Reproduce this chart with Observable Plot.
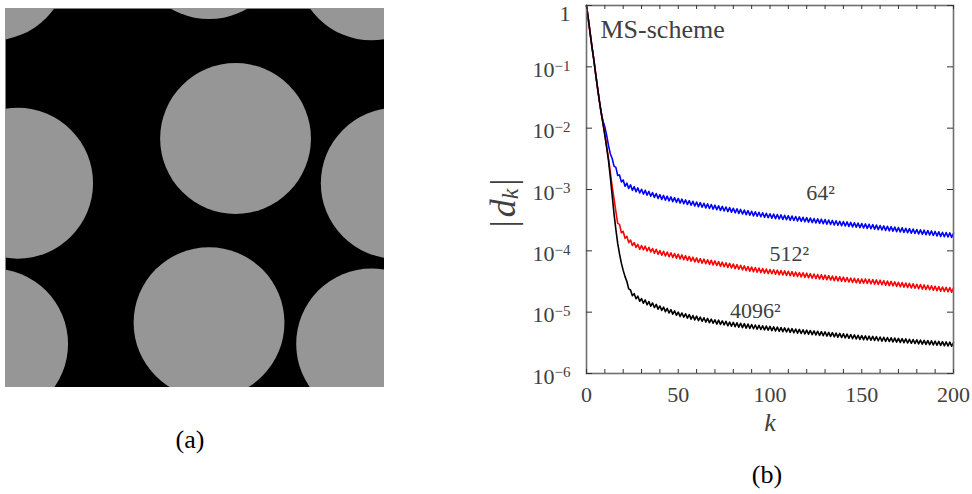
<!DOCTYPE html>
<html><head><meta charset="utf-8">
<script src="https://cdn.jsdelivr.net/npm/d3@7"></script>
<script src="https://cdn.jsdelivr.net/npm/@observablehq/plot@0.6"></script>
<style>
body{margin:0;background:#fff;width:972px;height:494px;position:relative;overflow:hidden;font-family:"Liberation Serif","Times New Roman","DejaVu Serif",serif;}
#pa{position:absolute;left:5px;top:8px;width:379px;height:379px;}
#pb{position:absolute;left:480px;top:0;}
#pb svg, #pb svg text{font-family:"Liberation Serif","Times New Roman","DejaVu Serif",serif !important;}
.cap{position:absolute;font-size:26px;color:#000;transform:translate(-50%,-50%);white-space:nowrap;line-height:1;}
</style></head><body>
<div id="pa"></div><div id="pb"></div>
<div class="cap" style="left:190px;top:440px">(a)</div>
<div class="cap" style="left:767px;top:475px">(b)</div>
<script>
// ---- panel (a): circle centres and radii, in units of the square's side ----
const circleX = [0.607, 0.032, 1.031, 0.537, 0.537, 0.966, -0.034, 0.966, -0.034];
const circleY = [0.343, 0.461, 0.461, 0.829, -0.171, 0.885, 0.885, -0.115, -0.115];
const circleR = [0.199, 0.199, 0.199, 0.199, 0.199, 0.199, 0.199, 0.199, 0.199];

// ---- panel (b): |d_k| versus k ----
const kValues = Array.from({length: 201}, (_, i) => i);
const d64 = [
1,0.60,0.35,0.21,0.13,0.076,0.046,0.028,0.018,0.013,0.0105,
7.6e-3,5.2e-3,3.8e-3,3.2e-3,2.4e-3,2.3e-3,1.7e-3,1.72e-3,1.33e-3,1.43e-3,
1.13e-3,1.27e-3,1.04e-3,1.19e-3,9.7e-4,1.11e-3,9.2e-4,1.06e-3,8.8e-4,1.01e-3,
8.43e-4,9.7e-4,8.1e-4,9.3e-4,7.8e-4,8.9e-4,7.45e-4,8.6e-4,7.14e-4,8.22e-4,
6.9e-4,8.0e-4,6.71e-4,7.78e-4,6.53e-4,7.57e-4,6.35e-4,7.36e-4,6.18e-4,7.16e-4,
6.01e-4,6.97e-4,5.85e-4,6.78e-4,5.69e-4,6.59e-4,5.53e-4,6.41e-4,5.38e-4,6.24e-4,
5.25e-4,6.1e-4,5.13e-4,5.96e-4,5.01e-4,5.82e-4,4.9e-4,5.69e-4,4.79e-4,5.56e-4,
4.68e-4,5.43e-4,4.57e-4,5.31e-4,4.47e-4,5.19e-4,4.37e-4,5.07e-4,4.27e-4,4.95e-4,
4.17e-4,4.84e-4,4.07e-4,4.73e-4,3.98e-4,4.62e-4,3.89e-4,4.52e-4,3.8e-4,4.42e-4,
3.72e-4,4.34e-4,3.66e-4,4.26e-4,3.59e-4,4.18e-4,3.52e-4,4.1e-4,3.46e-4,4.03e-4,
3.41e-4,3.97e-4,3.35e-4,3.91e-4,3.30e-4,3.85e-4,3.25e-4,3.80e-4,3.21e-4,3.74e-4,
3.16e-4,3.69e-4,3.12e-4,3.63e-4,3.07e-4,3.58e-4,3.03e-4,3.53e-4,2.98e-4,3.48e-4,
2.94e-4,3.42e-4,2.89e-4,3.37e-4,2.85e-4,3.32e-4,2.81e-4,3.28e-4,2.77e-4,3.23e-4,
2.73e-4,3.18e-4,2.69e-4,3.13e-4,2.64e-4,3.09e-4,2.61e-4,3.04e-4,2.57e-4,3.00e-4,
2.54e-4,2.96e-4,2.50e-4,2.91e-4,2.46e-4,2.87e-4,2.43e-4,2.83e-4,2.39e-4,2.79e-4,
2.36e-4,2.75e-4,2.32e-4,2.71e-4,2.29e-4,2.67e-4,2.26e-4,2.63e-4,2.22e-4,2.59e-4,
2.19e-4,2.55e-4,2.15e-4,2.51e-4,2.12e-4,2.48e-4,2.10e-4,2.44e-4,2.06e-4,2.40e-4,
2.03e-4,2.37e-4,2.00e-4,2.33e-4,1.97e-4,2.30e-4,1.94e-4,2.27e-4,1.92e-4,2.23e-4,
1.88e-4,2.20e-4,1.86e-4,2.17e-4,1.83e-4,2.14e-4,1.81e-4,2.11e-4,1.78e-4,2.07e-4,
1.75e-4,2.04e-4,1.72e-4,2.01e-4,1.70e-4,1.99e-4,1.68e-4,1.96e-4,1.66e-4,1.93e-4
];
const d512 = [
1,0.60,0.35,0.21,0.13,0.076,0.046,0.028,0.018,0.012,7.9e-3,
5.0e-3,3.2e-3,1.9e-3,1.12e-3,7.1e-4,4.4e-4,2.8e-4,2.7e-4,1.97e-4,2.07e-4,
1.6e-4,1.72e-4,1.36e-4,1.5e-4,1.22e-4,1.36e-4,1.14e-4,1.27e-4,1.06e-4,1.22e-4,
1.04e-4,1.19e-4,9.96e-5,1.14e-4,9.6e-5,1.09e-4,9.16e-5,1.06e-4,8.78e-5,1.01e-4,
8.49e-5,9.84e-5,8.25e-5,9.57e-5,8.03e-5,9.31e-5,7.81e-5,9.05e-5,7.6e-5,8.81e-5,
7.39e-5,8.57e-5,7.2e-5,8.34e-5,7.0e-5,8.11e-5,6.8e-5,7.88e-5,6.62e-5,7.68e-5,
6.46e-5,7.5e-5,6.31e-5,7.33e-5,6.16e-5,7.16e-5,6.03e-5,7.0e-5,5.89e-5,6.84e-5,
5.76e-5,6.68e-5,5.62e-5,6.53e-5,5.5e-5,6.38e-5,5.38e-5,6.24e-5,5.25e-5,6.09e-5,
5.13e-5,5.95e-5,5.01e-5,5.82e-5,4.9e-5,5.68e-5,4.78e-5,5.56e-5,4.67e-5,5.44e-5,
4.58e-5,5.34e-5,4.5e-5,5.24e-5,4.42e-5,5.14e-5,4.33e-5,5.04e-5,4.26e-5,4.96e-5,
4.23e-5,4.92e-5,4.15e-5,4.85e-5,4.09e-5,4.77e-5,4.03e-5,4.71e-5,3.98e-5,4.64e-5,
3.92e-5,4.58e-5,3.87e-5,4.50e-5,3.81e-5,4.44e-5,3.76e-5,4.38e-5,3.70e-5,4.32e-5,
3.65e-5,4.24e-5,3.58e-5,4.18e-5,3.53e-5,4.12e-5,3.48e-5,4.07e-5,3.43e-5,4.01e-5,
3.39e-5,3.94e-5,3.34e-5,3.88e-5,3.27e-5,3.83e-5,3.24e-5,3.77e-5,3.19e-5,3.72e-5,
3.15e-5,3.67e-5,3.10e-5,3.61e-5,3.05e-5,3.56e-5,3.01e-5,3.51e-5,2.96e-5,3.46e-5,
2.98e-5,3.48e-5,2.94e-5,3.44e-5,2.90e-5,3.40e-5,2.87e-5,3.36e-5,2.83e-5,3.32e-5,
2.80e-5,3.26e-5,2.75e-5,3.21e-5,2.71e-5,3.17e-5,2.69e-5,3.12e-5,2.64e-5,3.07e-5,
2.60e-5,3.03e-5,2.56e-5,2.98e-5,2.52e-5,2.94e-5,2.48e-5,2.91e-5,2.46e-5,2.85e-5,
2.41e-5,2.82e-5,2.38e-5,2.78e-5,2.34e-5,2.74e-5,2.32e-5,2.70e-5,2.28e-5,2.65e-5,
2.24e-5,2.61e-5,2.20e-5,2.57e-5,2.18e-5,2.55e-5,2.15e-5,2.51e-5,2.12e-5,2.47e-5
];
const d4096 = [
1,0.60,0.35,0.21,0.13,0.076,0.046,0.028,0.018,0.0117,7.6e-3,
4.8e-3,2.95e-3,1.58e-3,7.9e-4,4.0e-4,2.24e-4,1.32e-4,8.9e-5,6.3e-5,4.8e-5,
3.8e-5,3.16e-5,2.4e-5,2.3e-5,1.86e-5,2.0e-5,1.66e-5,1.82e-5,1.51e-5,1.66e-5,
1.40e-5,1.58e-5,1.32e-5,1.49e-5,1.25e-5,1.41e-5,1.19e-5,1.34e-5,1.12e-5,1.26e-5,
1.07e-5,1.21e-5,1.02e-5,1.15e-5,9.7e-6,1.10e-5,9.3e-6,1.05e-5,8.9e-6,1.00e-5,
8.5e-6,9.7e-6,8.3e-6,9.4e-6,8.0e-6,9.1e-6,7.7e-6,8.8e-6,7.5e-6,8.6e-6,
7.3e-6,8.3e-6,7.1e-6,8.1e-6,6.9e-6,7.9e-6,6.75e-6,7.7e-6,6.6e-6,7.5e-6,
6.4e-6,7.4e-6,6.3e-6,7.2e-6,6.2e-6,7.1e-6,6.0e-6,6.9e-6,5.9e-6,6.8e-6,
5.8e-6,6.7e-6,5.7e-6,6.6e-6,5.6e-6,6.5e-6,5.5e-6,6.4e-6,5.45e-6,6.3e-6,
5.37e-6,6.18e-6,5.30e-6,6.10e-6,5.22e-6,6.01e-6,5.15e-6,5.93e-6,5.08e-6,5.85e-6,
5.01e-6,5.77e-6,4.94e-6,5.69e-6,4.88e-6,5.61e-6,4.81e-6,5.54e-6,4.75e-6,5.46e-6,
4.68e-6,5.39e-6,4.62e-6,5.31e-6,4.55e-6,5.24e-6,4.49e-6,5.17e-6,4.43e-6,5.10e-6,
4.37e-6,5.03e-6,4.31e-6,4.96e-6,4.25e-6,4.89e-6,4.19e-6,4.82e-6,4.13e-6,4.76e-6,
4.08e-6,4.69e-6,4.02e-6,4.63e-6,3.97e-6,4.56e-6,3.91e-6,4.50e-6,3.86e-6,4.44e-6,
3.81e-6,4.38e-6,3.75e-6,4.32e-6,3.70e-6,4.26e-6,3.65e-6,4.20e-6,3.60e-6,4.14e-6,
3.56e-6,4.10e-6,3.52e-6,4.06e-6,3.49e-6,4.02e-6,3.45e-6,3.98e-6,3.42e-6,3.94e-6,
3.38e-6,3.90e-6,3.35e-6,3.86e-6,3.32e-6,3.82e-6,3.28e-6,3.78e-6,3.25e-6,3.74e-6,
3.21e-6,3.70e-6,3.18e-6,3.66e-6,3.14e-6,3.62e-6,3.11e-6,3.58e-6,3.08e-6,3.55e-6,
3.05e-6,3.51e-6,3.02e-6,3.47e-6,2.98e-6,3.44e-6,2.95e-6,3.40e-6,2.92e-6,3.37e-6,
2.89e-6,3.34e-6,2.87e-6,3.30e-6,2.83e-6,3.27e-6,2.81e-6,3.24e-6,2.78e-6,3.20e-6
];
const xTickLabels = [0, 50, 100, 150, 200];
const xTicks = [0,10,20,30,40,50,60,70,80,90,100,110,120,130,140,150,160,170,180,190,200];
const yTicks = [1, 1e-1, 1e-2, 1e-3, 1e-4, 1e-5, 1e-6];
const yTickLabels = ["1", "10^−1", "10^−2", "10^−3", "10^−4", "10^−5", "10^−6"];
const curveLabels = ["64²", "512²", "4096²"];
const curveLabelK = [127.5, 110.5, 92];
const curveLabelV = [8.7e-4, 8.9e-5, 1.06e-5];

const SERIF = "'Liberation Serif', 'Times New Roman', 'DejaVu Serif', serif";

// ---- panel (a) ----
const plotA = Plot.plot({
  width: 379, height: 379, margin: 0,
  x: {domain: [0, 1], axis: null},
  y: {domain: [0, 1], reverse: true, axis: null},
  r: {type: "linear", domain: [0, 1], range: [0, 379]},
  style: {background: "transparent"},
  marks: [
    Plot.frame({fill: "black"}),
    Plot.dot(circleX, {x: circleX, y: circleY, r: circleR, fill: "#969696", stroke: null, clip: true})
  ]
});
document.getElementById("pa").append(plotA);

// ---- panel (b) ----
const toRows = (arr, s) => arr.map((v, i) => ({k: kValues[i], v, s}));
const rows64 = toRows(d64, "64"), rows512 = toRows(d512, "512"), rows4096 = toRows(d4096, "4096");
const W = 492, H = 440, mL = 106, mR = 19, mT = 5, mB = 67;
const pw = W - mL - mR, ph = H - mT - mB;
const plotB = Plot.plot({
  width: W, height: H,
  marginLeft: mL, marginRight: mR, marginTop: mT, marginBottom: mB,
  x: {domain: [0, 200]},
  y: {type: "log", domain: [1e-6, 1]},
  style: {fontFamily: SERIF, fontSize: "22px", color: "#404040", background: "transparent", overflow: "visible"},
  marks: [
    Plot.line(rows64, {x: "k", y: "v", stroke: "#0000ff", strokeWidth: 1.6}),
    Plot.line(rows512, {x: "k", y: "v", stroke: "#ff0000", strokeWidth: 1.6}),
    Plot.line(rows4096, {x: "k", y: "v", stroke: "#000000", strokeWidth: 1.6}),
    Plot.frame({stroke: "#707070", strokeWidth: 1.6}),
    Plot.tickX(xTicks, {x: d => d, insetTop: ph - 4, stroke: "#333"}),
    Plot.tickX(xTicks, {x: d => d, insetBottom: ph - 4, stroke: "#333"}),
    Plot.tickY(yTicks, {y: d => d, insetRight: pw - 6, stroke: "#333"}),
    Plot.tickY(yTicks, {y: d => d, insetLeft: pw - 6, stroke: "#333"}),
    Plot.axisX(xTickLabels, {anchor: "bottom", tickSize: 0, tickPadding: 13, label: null}),
    Plot.axisY(yTicks, {anchor: "left", tickSize: 0, tickPadding: 16, dy: 3, label: null,
      tickFormat: d => yTickLabels[yTicks.indexOf(d)]}),
    Plot.text(curveLabels, {x: curveLabelK, y: curveLabelV, text: curveLabels, fill: "#404040", fontSize: 22}),
    Plot.text(["MS-scheme"], {frameAnchor: "top-left", dx: 14, dy: 14, textAnchor: "start", lineAnchor: "top", fill: "#404040", fontSize: 26}),
    Plot.text(["k"], {frameAnchor: "bottom", lineAnchor: "middle", dy: 49, fill: "#404040", fontSize: 26, fontStyle: "italic"})
  ]
});
document.getElementById("pb").append(plotB);
plotB.style.fontFamily = SERIF;

// superscript exponents on the y tick labels; keep the top "1" inside the picture
d3.select(plotB).selectAll('g[aria-label="y-axis tick label"] text').each(function () {
  const t = this.textContent;
  const s = d3.select(this);
  if (t.includes("^")) {
    const [b, e] = t.split("^");
    s.text("");
    s.append("tspan").text(b);
    s.append("tspan").attr("dy", "-0.42em").attr("font-size", "15px").text(e);
  } else {
    s.text("");
    s.append("tspan").attr("dy", "5").text(t);
  }
});

// y axis label |d_k|
const yl = d3.select(plotB).append("text")
  .attr("transform", "translate(23,203) rotate(-90)")
  .attr("text-anchor", "middle")
  .attr("dominant-baseline", "central")
  .attr("fill", "#404040")
  .attr("font-family", SERIF)
  .attr("font-size", "36px");
yl.append("tspan").text("|");
yl.append("tspan").attr("dx", "3").attr("font-style", "italic").text("d");
yl.append("tspan").attr("font-style", "italic").attr("font-size", "24px").attr("dy", "0.3em").text("k");
yl.append("tspan").attr("dx", "3").attr("dy", "-0.2em").text("|");
</script>
</body></html>
